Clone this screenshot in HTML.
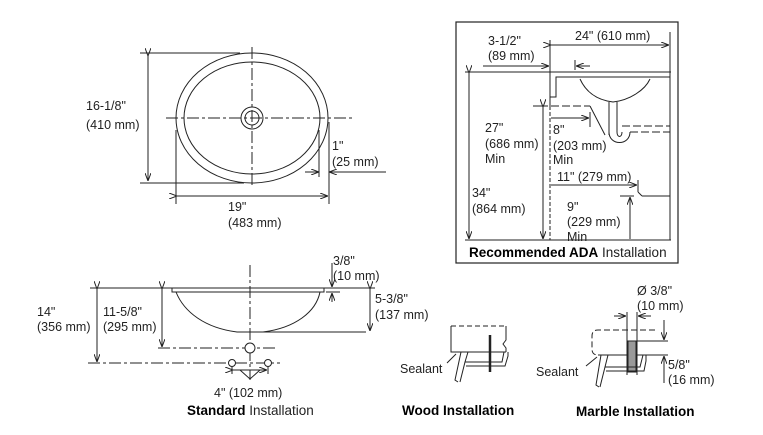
<!DOCTYPE html>
<html><head><meta charset="utf-8"><style>
body{margin:0;background:#fff}
svg{display:block}
text{font-family:"Liberation Sans",sans-serif;font-size:12.5px;fill:#222}
.b{font-weight:bold;fill:#000}
.l{font-size:13.5px}
</style></head><body>
<svg width="763" height="435" viewBox="0 0 763 435" xmlns="http://www.w3.org/2000/svg">
<defs>
<marker id="a" markerWidth="8" markerHeight="6" refX="8" refY="3" orient="auto" markerUnits="userSpaceOnUse"><path d="M0,0 L8,3 L0,6" fill="none" stroke="#222" stroke-width="1"/></marker>
</defs>
<g stroke="#222" stroke-width="1" fill="none">
<ellipse cx="252" cy="118" rx="76" ry="65"/>
<ellipse cx="252" cy="118" rx="68" ry="56"/>
<circle cx="252" cy="118" r="11"/><circle cx="252" cy="118" r="7"/>
<line x1="166" y1="118" x2="352" y2="118" stroke-dasharray="12,3,3,3"/>
<line x1="252" y1="47" x2="252" y2="188" stroke-dasharray="12,3,3,3"/>
<line x1="140" y1="53" x2="240" y2="53"/><line x1="140" y1="183" x2="244" y2="183"/>
<line x1="148" y1="56" x2="148" y2="181" marker-start="url(#a)" marker-end="url(#a)"/>
<line x1="176" y1="130" x2="176" y2="204"/><line x1="329" y1="122" x2="329" y2="204"/>
<line x1="177" y1="196" x2="328" y2="196" marker-start="url(#a)" marker-end="url(#a)"/>
<line x1="319" y1="130" x2="319" y2="177"/>
<line x1="305" y1="172" x2="319" y2="172" marker-end="url(#a)"/>
<line x1="386" y1="172" x2="329" y2="172" marker-end="url(#a)"/>
<rect x="456" y="22" width="222" height="241" stroke-width="1.2"/>
<line x1="550" y1="40" x2="550" y2="106"/>
<line x1="550" y1="106" x2="550" y2="240" stroke-dasharray="4,2"/>
<line x1="465" y1="72" x2="671" y2="72"/>
<line x1="670" y1="32" x2="670" y2="240"/>
<line x1="465" y1="240" x2="671" y2="240"/>
<line x1="551" y1="45" x2="669" y2="45" marker-start="url(#a)" marker-end="url(#a)"/>
<line x1="483" y1="66" x2="549" y2="66" marker-end="url(#a)"/>
<line x1="575" y1="60" x2="575" y2="70"/><line x1="590" y1="66" x2="576" y2="66" marker-end="url(#a)"/>
<path d="M670,77 L556,77 L556,97 L550,97"/>
<path d="M578,77 L652,77 M580,79 C585,90 595,100 613,102 C630,100 645,90 650,79"/>
<path d="M609,102 L609,135 M617,102 L617,132"/>
<path d="M609,132 C609,146 630,146 630,132 M617,132 C617,138 622,138 622,132"/>
<line x1="622" y1="126" x2="670" y2="126" stroke-dasharray="8,3"/>
<line x1="630" y1="132" x2="670" y2="132" stroke-dasharray="8,3"/>
<line x1="469" y1="73" x2="469" y2="239" marker-start="url(#a)" marker-end="url(#a)"/>
<line x1="533" y1="106" x2="548" y2="106"/>
<line x1="543" y1="107" x2="543" y2="239" marker-start="url(#a)" marker-end="url(#a)"/>
<line x1="551" y1="106" x2="590" y2="106" stroke-dasharray="8,3"/>
<line x1="590" y1="106" x2="605" y2="135"/>
<line x1="590" y1="112" x2="590" y2="127"/>
<line x1="551" y1="118" x2="589" y2="118" marker-end="url(#a)"/>
<line x1="551" y1="185" x2="637" y2="185" marker-end="url(#a)"/>
<line x1="638" y1="180" x2="638" y2="192"/><line x1="638" y1="192" x2="642" y2="196"/>
<line x1="642" y1="196" x2="670" y2="196"/>
<line x1="620" y1="196" x2="634" y2="196"/>
<line x1="630" y1="239" x2="630" y2="197" marker-end="url(#a)"/>
<rect x="172" y="288" width="152" height="4"/>
<path d="M176,292 C184,312 205,328 237,332 L263,332 C295,328 316,312 320,292"/>
<line x1="263" y1="332" x2="366" y2="332"/>
<line x1="90" y1="288" x2="172" y2="288"/><line x1="324" y1="288" x2="375" y2="288"/>
<line x1="250" y1="265" x2="250" y2="380" stroke-dasharray="12,3,3,3"/>
<line x1="97" y1="289" x2="97" y2="362" marker-start="url(#a)" marker-end="url(#a)"/>
<line x1="88" y1="363" x2="280" y2="363" stroke-dasharray="12,3,3,3"/>
<line x1="162" y1="289" x2="162" y2="347" marker-start="url(#a)" marker-end="url(#a)"/>
<line x1="158" y1="348" x2="275" y2="348" stroke-dasharray="12,3,3,3"/>
<circle cx="250" cy="348" r="5" fill="#fff"/>
<circle cx="232" cy="363" r="3.5" fill="#fff"/><circle cx="268" cy="363" r="3.5" fill="#fff"/>
<line x1="232" y1="367" x2="232" y2="374"/><line x1="268" y1="367" x2="268" y2="374"/>
<line x1="233" y1="370" x2="267" y2="370" marker-start="url(#a)" marker-end="url(#a)"/>
<path d="M240,370 L250,379 L260,370"/>
<line x1="332" y1="263" x2="332" y2="287" marker-end="url(#a)"/>
<line x1="326" y1="292" x2="340" y2="292"/>
<line x1="332" y1="302" x2="332" y2="293" marker-end="url(#a)"/>
<line x1="370" y1="289" x2="370" y2="331" marker-start="url(#a)" marker-end="url(#a)"/>
<line x1="451" y1="326" x2="506" y2="326" stroke-dasharray="5,3"/>
<path d="M451,326 L451,352 L506,352 M506,326 L506,340 L503,344 L506,348 L506,352"/>
<line x1="490" y1="335" x2="490" y2="372" stroke-width="2.5"/>
<path d="M461,352 L455,380 L458,382 M468,352 L465,362 L460,382"/>
<path d="M465,362 L502,362 L504,352 M466,366 L505,366 L508,356 L508,352"/>
<path d="M456,354 L447,363"/>
<path d="M655,330 L598,330 Q592,330 592,336 L592,349 Q592,355 598,355 L668,355" stroke-dasharray="6,3"/>
<line x1="598" y1="355" x2="668" y2="355"/>
<line x1="627" y1="312" x2="627" y2="375"/><line x1="637" y1="312" x2="637" y2="375"/>
<rect x="628" y="341" width="8" height="31" fill="#999"/>
<line x1="637" y1="341" x2="668" y2="341"/>
<line x1="614" y1="316" x2="626" y2="316" marker-end="url(#a)"/>
<line x1="651" y1="316" x2="638" y2="316" marker-end="url(#a)"/>
<line x1="664" y1="320" x2="664" y2="340" marker-end="url(#a)"/>
<line x1="664" y1="383" x2="664" y2="356" marker-end="url(#a)"/>
<path d="M601,355 L596,385 L599,387 M608,355 L605,367 L600,387"/>
<path d="M605,367 L640,367 L643,355 M606,371 L644,371 L646,361 L646,355"/>
<path d="M597,357 L586,366"/>
</g>
<text x="86" y="110">16-1/8"</text><text x="86" y="129">(410 mm)</text>
<text x="228" y="211">19"</text><text x="228" y="227">(483 mm)</text>
<text x="332" y="150">1"</text><text x="332" y="166">(25 mm)</text>
<text x="488" y="45">3-1/2"</text><text x="488" y="60">(89 mm)</text>
<text x="575" y="40">24" (610 mm)</text>
<text x="485" y="132">27"</text><text x="485" y="148">(686 mm)</text><text x="485" y="163">Min</text>
<text x="472" y="197">34"</text><text x="472" y="213">(864 mm)</text>
<text x="553" y="134">8"</text><text x="553" y="150">(203 mm)</text><text x="553" y="164">Min</text>
<text x="557" y="181">11" (279 mm)</text>
<text x="567" y="211">9"</text><text x="567" y="226">(229 mm)</text><text x="567" y="241">Min</text>
<text x="469" y="257" class="l"><tspan class="b">Recommended ADA</tspan> Installation</text>
<text x="333" y="265">3/8"</text><text x="333" y="280">(10 mm)</text>
<text x="375" y="303">5-3/8"</text><text x="375" y="319">(137 mm)</text>
<text x="37" y="316">14"</text><text x="37" y="331">(356 mm)</text>
<text x="103" y="316">11-5/8"</text><text x="103" y="331">(295 mm)</text>
<text x="214" y="397">4" (102 mm)</text>
<text x="187" y="415" class="l"><tspan class="b">Standard</tspan> Installation</text>
<text x="400" y="373">Sealant</text>
<text x="402" y="415" class="l b">Wood Installation</text>
<text x="637" y="295">Ø 3/8"</text><text x="637" y="310">(10 mm)</text>
<text x="536" y="376">Sealant</text>
<text x="668" y="369">5/8"</text><text x="668" y="384">(16 mm)</text>
<text x="576" y="416" class="l b">Marble Installation</text>
</svg>
</body></html>
